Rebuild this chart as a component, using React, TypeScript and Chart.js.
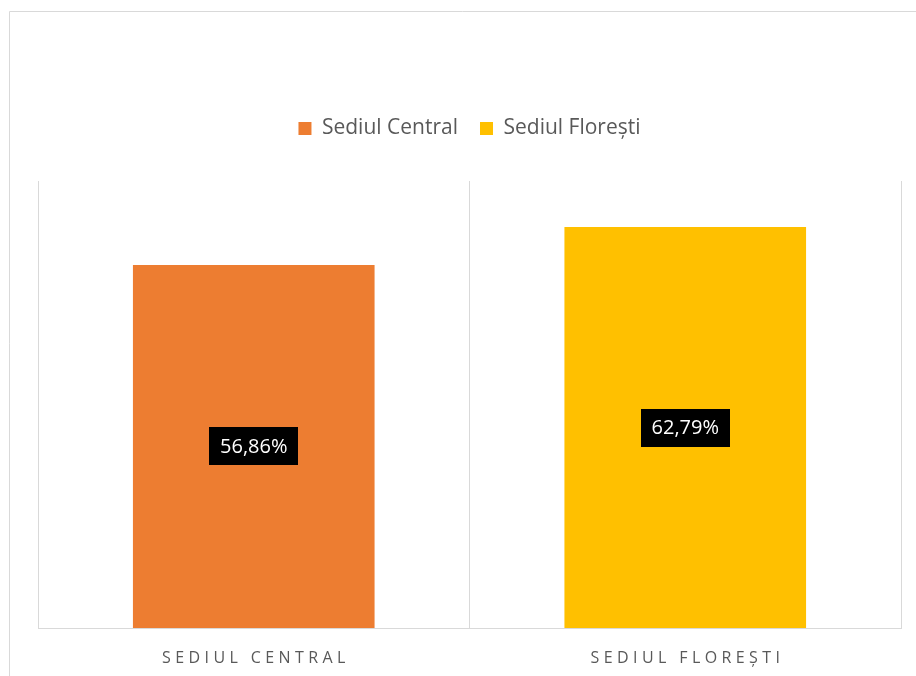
import React, { useEffect, useRef } from 'react';
import { Chart, registerables } from 'chart.js';

Chart.register(...registerables);

// ---- data ----
const categories: string[] = ['Sediul Central', 'Sediul Florești'];
const seriesNames: string[] = ['Sediul Central', 'Sediul Florești'];
const centralValues: (number | null)[] = [56.86, null];
const florestiValues: (number | null)[] = [null, 62.79];
const axisLabels: string[] = ['SEDIUL CENTRAL', 'SEDIUL FLOREȘTI'];
const seriesColors: string[] = ['#ED7D31', '#FFC000'];
const yMin = 0;
const yMax = 70;

const FONT = '"Open Sans", "Noto Sans", sans-serif';
const GRID = '#D9D9D9';
const TEXT = '#595959';

const formatPct = (v: number) => v.toFixed(2).replace('.', ',') + '%';

const framePlugin = {
  id: 'frame',
  beforeDraw(chart: any) {
    const ctx = chart.ctx;
    ctx.save();
    ctx.strokeStyle = GRID;
    ctx.lineWidth = 1;
    ctx.beginPath();
    ctx.moveTo(9.5, chart.height);
    ctx.lineTo(9.5, 11.5);
    ctx.lineTo(chart.width, 11.5);
    ctx.stroke();
    ctx.restore();
  },
};

const dataLabelPlugin = {
  id: 'boxLabels',
  afterDatasetsDraw(chart: any) {
    const ctx = chart.ctx;
    ctx.save();
    ctx.font = `20px ${FONT}`;
    ctx.textAlign = 'center';
    ctx.textBaseline = 'middle';
    chart.data.datasets.forEach((ds: any, d: number) => {
      const meta = chart.getDatasetMeta(d);
      meta.data.forEach((el: any, i: number) => {
        const v = ds.data[i];
        if (v === null || v === undefined) return;
        const { x, y, base } = el.getProps(['x', 'y', 'base'], true);
        const cy = (y + base) / 2;
        const text = formatPct(v);
        const w = ctx.measureText(text).width + 22;
        const h = 38;
        ctx.fillStyle = '#000000';
        ctx.fillRect(Math.round(x - w / 2), Math.round(cy - h / 2), Math.round(w), h);
        ctx.fillStyle = '#FFFFFF';
        ctx.fillText(text, x, cy + 1);
      });
    });
    ctx.restore();
  },
};

const axisLabelPlugin = {
  id: 'axisLabels',
  afterDraw(chart: any) {
    const ctx = chart.ctx;
    const xs = chart.scales.x;
    const spacing = 4.4;
    ctx.save();
    ctx.font = `16px ${FONT}`;
    (ctx as any).letterSpacing = `${spacing}px`;
    ctx.fillStyle = TEXT;
    ctx.textAlign = 'center';
    ctx.textBaseline = 'middle';
    axisLabels.forEach((lbl, i) => {
      const x = xs.getPixelForValue(i);
      ctx.fillText(lbl, x + spacing / 2, chart.chartArea.bottom + 30);
    });
    (ctx as any).letterSpacing = '0px';
    ctx.restore();
  },
};

export default function App() {
  const ref = useRef<HTMLCanvasElement | null>(null);

  useEffect(() => {
    if (!ref.current) return;
    const chart = new Chart(ref.current, {
      type: 'bar',
      data: {
        labels: categories,
        datasets: [
          {
            label: seriesNames[0],
            data: centralValues,
            backgroundColor: seriesColors[0],
            borderWidth: 0,
            skipNull: true,
          } as any,
          {
            label: seriesNames[1],
            data: florestiValues,
            backgroundColor: seriesColors[1],
            borderWidth: 0,
            skipNull: true,
          } as any,
        ],
      },
      options: {
        responsive: false,
        animation: false,
        maintainAspectRatio: false,
        layout: { padding: { top: 96, left: 38, right: 15, bottom: 0 } },
        datasets: { bar: { barPercentage: 0.56, categoryPercentage: 1 } },
        plugins: {
          legend: {
            display: true,
            position: 'top',
            labels: {
              boxWidth: 13,
              boxHeight: 13,
              padding: 22,
              color: TEXT,
              font: { family: FONT, size: 21 },
            },
          },
          title: {
            display: true,
            text: '',
            position: 'top',
            weight: 500,
            font: { size: 10 },
            padding: { top: 0, bottom: 20 },
          } as any,
          tooltip: { enabled: false },
        },
        scales: {
          x: {
            grid: { color: GRID, lineWidth: 1, offset: true, drawTicks: false },
            border: { color: GRID, width: 1 },
            ticks: { display: false },
            afterFit(scale: any) {
              scale.height = 48;
            },
          },
          y: {
            display: false,
            min: yMin,
            max: yMax,
          },
        },
      },
      plugins: [framePlugin, dataLabelPlugin, axisLabelPlugin],
    });
    return () => chart.destroy();
  }, []);

  return (
    <div style={{ position: 'absolute', left: 0, top: 0, width: 916, height: 676, background: '#fff' }}>
      <canvas ref={ref} width={916} height={676} style={{ display: 'block' }} />
    </div>
  );
}
